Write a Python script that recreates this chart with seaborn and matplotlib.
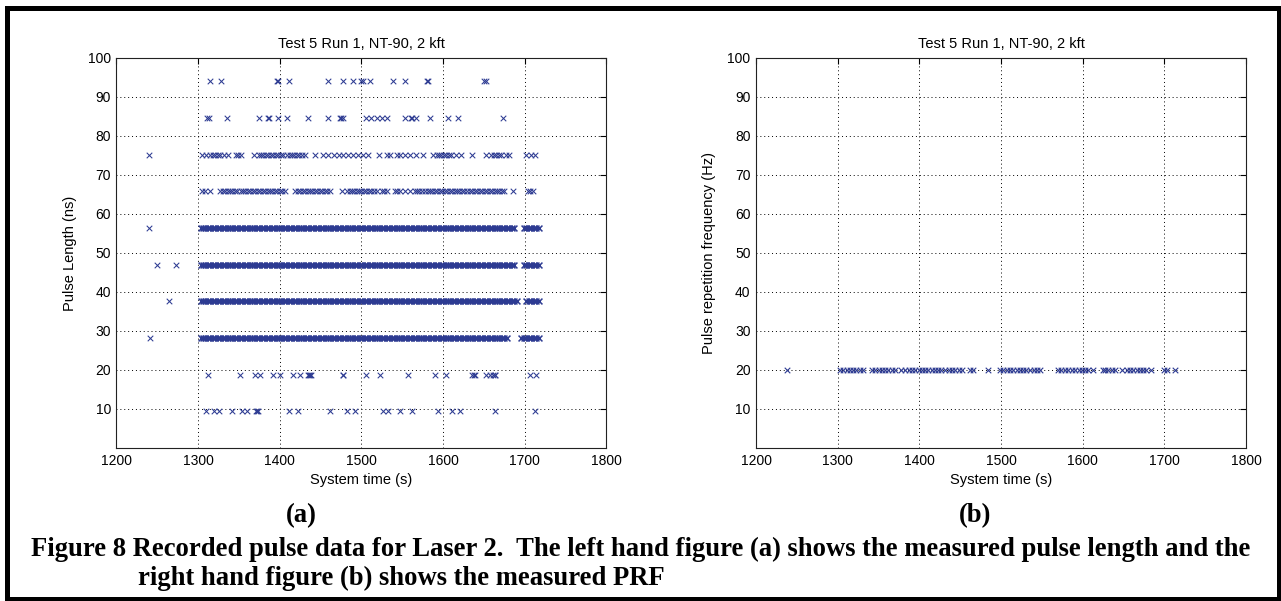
import matplotlib
matplotlib.use('Agg')
import matplotlib.pyplot as plt
import pandas as pd
import seaborn as sns
from matplotlib.patches import Rectangle

sns.set_style('white')
plt.rcParams['font.family'] = ['Liberation Sans', 'DejaVu Sans']
plt.rcParams['text.color'] = 'black'
plt.rcParams['axes.labelcolor'] = 'black'

# Pulse length levels (ns) and the system times (s) at which each was recorded
levels = [9.4, 18.8, 28.2, 37.6, 47.0, 56.4, 65.8, 75.2, 84.6, 94.0]

t_94 = [1315, 1328, 1396, 1398, 1411, 1459, 1478, 1490, 1500, 1502, 1510, 1539,
        1553, 1580, 1582, 1650, 1652]
t_85 = [1311, 1313, 1335, 1374, 1386, 1387, 1398, 1409, 1435, 1459, 1474, 1475,
        1477, 1506, 1512, 1519, 1525, 1531, 1553, 1561, 1562, 1567, 1584, 1606,
        1618, 1673]
t_75 = [1240, 1305, 1310, 1315, 1318, 1321, 1324, 1327, 1332, 1337, 1347, 1349,
        1352, 1368, 1374, 1377, 1380, 1383, 1386, 1389, 1392, 1395, 1398, 1401,
        1404, 1409, 1412, 1415, 1418, 1421, 1424, 1427, 1431, 1443, 1453, 1459,
        1466, 1472, 1478, 1484, 1490, 1496, 1502, 1508, 1521, 1531, 1535, 1543,
        1547, 1553, 1559, 1567, 1576, 1588, 1592, 1595, 1598, 1601, 1604, 1607,
        1610, 1616, 1622, 1635, 1653, 1659, 1662, 1665, 1668, 1671, 1677, 1681,
        1702, 1708, 1712]
t_66 = [1305, 1309, 1315, 1327, 1330, 1333, 1336, 1339, 1342, 1345, 1348, 1352,
        1355, 1358, 1361, 1364, 1367, 1370, 1373, 1376, 1379, 1382, 1385, 1388,
        1391, 1394, 1397, 1400, 1403, 1407, 1419, 1422, 1425, 1428, 1431, 1434,
        1437, 1440, 1443, 1446, 1449, 1452, 1455, 1458, 1462, 1476, 1482, 1486,
        1488, 1491, 1494, 1497, 1500, 1503, 1506, 1509, 1512, 1515, 1519, 1525,
        1528, 1531, 1541, 1544, 1547, 1553, 1559, 1565, 1568, 1571, 1574, 1578,
        1581, 1584, 1587, 1590, 1593, 1596, 1599, 1602, 1605, 1608, 1611, 1614,
        1617, 1620, 1623, 1626, 1629, 1633, 1636, 1639, 1642, 1645, 1648, 1651,
        1654, 1657, 1660, 1663, 1666, 1669, 1672, 1675, 1686, 1704, 1707, 1710]
t_19 = [1312, 1351, 1370, 1376, 1392, 1400, 1416, 1425, 1434, 1436, 1437, 1438,
        1477, 1478, 1505, 1523, 1557, 1590, 1604, 1635, 1638, 1639, 1653, 1657,
        1661, 1663, 1664, 1706, 1714]
t_9 = [1310, 1319, 1326, 1341, 1354, 1360, 1371, 1372, 1373, 1411, 1422, 1461,
       1482, 1492, 1527, 1533, 1547, 1562, 1594, 1611, 1621, 1664, 1712]

# the four main levels are recorded almost continuously
dense_times = [1303, 1306, 1309, 1312, 1315, 1318, 1321, 1324, 1327, 1330, 1333,
               1336, 1339, 1342, 1345, 1348, 1351, 1354, 1357, 1360, 1363, 1366,
               1369, 1372, 1375, 1378, 1381, 1384, 1387, 1390, 1393, 1396, 1399,
               1402, 1405, 1408, 1411, 1414, 1417, 1420, 1423, 1426, 1429, 1432,
               1435, 1438, 1441, 1444, 1447, 1450, 1453, 1456, 1459, 1462, 1465,
               1468, 1471, 1474, 1477, 1480, 1483, 1486, 1489, 1492, 1495, 1498,
               1501, 1504, 1507, 1510, 1513, 1516, 1519, 1522, 1525, 1528, 1531,
               1534, 1537, 1540, 1543, 1546, 1549, 1552, 1555, 1558, 1561, 1564,
               1567, 1570, 1573, 1576, 1579, 1582, 1585, 1588, 1591, 1594, 1597,
               1600, 1603, 1606, 1609, 1612, 1615, 1618, 1621, 1624, 1627, 1630,
               1633, 1636, 1639, 1642, 1645, 1648, 1651, 1654, 1657, 1660, 1663,
               1666, 1669, 1672, 1675, 1678, 1681, 1684, 1687, 1690, 1693, 1696,
               1699, 1702, 1705, 1708, 1711, 1714, 1717]
# (last time before the dropout, first time after it) for each continuous level
dense_gaps = {28.2: (1679, 1696), 37.6: (1690, 1700), 47.0: (1688, 1699), 56.4: (1688, 1699)}
# stray early pulses
t_56_extra = [1240]
t_47_extra = [1250, 1273]
t_38_extra = [1264]
t_28_extra = [1241]

# PRF (Hz) recorded at these times, all at 20 Hz
prf_times = [1238, 1303, 1307, 1311, 1315, 1319, 1323, 1327, 1331, 1342, 1346, 1350,
             1354, 1358, 1362, 1366, 1370, 1378, 1382, 1387, 1391, 1395, 1399, 1403,
             1407, 1411, 1415, 1419, 1423, 1427, 1431, 1436, 1440, 1444, 1448, 1452,
             1462, 1466, 1484, 1499, 1503, 1507, 1511, 1515, 1519, 1523, 1527, 1531,
             1535, 1540, 1544, 1548, 1570, 1574, 1578, 1582, 1587, 1591, 1595, 1599,
             1603, 1607, 1613, 1625, 1627, 1631, 1636, 1640, 1648, 1654, 1658, 1662,
             1666, 1670, 1674, 1678, 1684, 1699, 1703, 1713]
prf_value = 20.0

sparse = {9.4: t_9, 18.8: t_19, 65.8: t_66, 75.2: t_75, 84.6: t_85, 94.0: t_94}
extras = {28.2: t_28_extra, 37.6: t_38_extra, 47.0: t_47_extra, 56.4: t_56_extra}

rows, dense_rows = [], []
for lev in levels:
    if lev in sparse:
        rows += [(t, lev) for t in sparse[lev]]
    else:
        lo, hi = dense_gaps[lev]
        dense_rows += [(t, lev) for t in dense_times if t <= lo or t >= hi]
        rows += [(t, lev) for t in extras[lev]]
pulse = pd.DataFrame(rows, columns=['time', 'length'])
pulse_dense = pd.DataFrame(dense_rows, columns=['time', 'length'])
prf = pd.DataFrame({'time': prf_times, 'prf': [prf_value] * len(prf_times)})

col = '#2d3b92'
fig = plt.figure(figsize=(12.81, 6.01), dpi=100)
ax1 = fig.add_axes([0.0909, 0.2546, 0.3825, 0.6489])
ax2 = fig.add_axes([0.5902, 0.2546, 0.3825, 0.6489])

sns.scatterplot(data=pulse, x='time', y='length', marker='x', color=col, s=16,
                linewidth=0.75, ax=ax1, zorder=3)
sns.scatterplot(data=pulse_dense, x='time', y='length', marker='x', color=col, s=18,
                linewidth=1.1, ax=ax1, zorder=3)
sns.scatterplot(data=prf, x='time', y='prf', marker='x', color=col, s=16,
                linewidth=0.8, ax=ax2, zorder=3)

for ax, ylab in [(ax1, 'Pulse Length (ns)'), (ax2, 'Pulse repetition frequency (Hz)')]:
    ax.set_xlim(1200, 1800)
    ax.set_ylim(0, 100)
    ax.set_xticks(range(1200, 1801, 100))
    ax.set_yticks(range(10, 101, 10))
    ax.grid(True, linestyle=(0, (1, 3)), color='black', linewidth=0.7)
    ax.tick_params(direction='in', length=4, width=0.8, top=True, right=True,
                   labelsize=10, colors='black', pad=4)
    for sp in ax.spines.values():
        sp.set_color('#222222')
        sp.set_linewidth(0.8)
    ax.set_title('Test 5 Run 1, NT-90, 2 kft', fontsize=10.5, pad=7)
    ax.set_xlabel('System time (s)', fontsize=10.5, labelpad=4)
    ax.set_ylabel(ylab, fontsize=10.5, labelpad=8)

cap = dict(family=['Liberation Serif', 'DejaVu Serif'], fontweight='bold',
           fontsize=19.2, color='black')
fig.text(301 / 1281, 1 - 516 / 601, '(a)', ha='center', va='center', **cap)
fig.text(975 / 1281, 1 - 516 / 601, '(b)', ha='center', va='center', **cap)
fig.text(31 / 1281, 1 - 549 / 601,
         'Figure 8 Recorded pulse data for Laser 2.  The left hand figure (a) shows '
         'the measured pulse length and the', ha='left', va='center', **cap)
fig.text(138 / 1281, 1 - 578 / 601,
         'right hand figure (b) shows the measured PRF', ha='left', va='center', **cap)

fig.patches.append(Rectangle((0.00585, 0.0033), 0.9925, 0.9842, transform=fig.transFigure,
                             fill=False, edgecolor='black', linewidth=3.6))

plt.savefig('out.png', dpi=100)
